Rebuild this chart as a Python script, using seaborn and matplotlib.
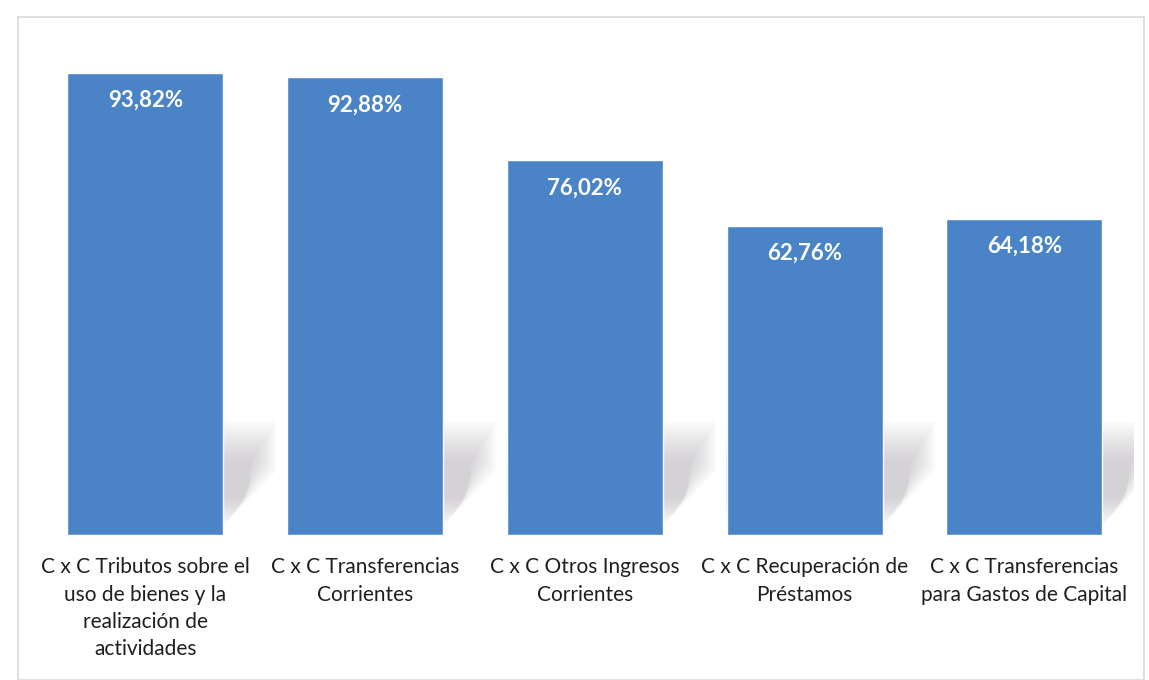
import matplotlib
matplotlib.use('Agg')
import matplotlib.pyplot as plt
import seaborn as sns
import pandas as pd
from matplotlib.patches import Rectangle, Polygon

categorias = [
    'C x C Tributos sobre el\nuso de bienes y la\nrealización de\nactividades',
    'C x C Transferencias\nCorrientes',
    'C x C Otros Ingresos\nCorrientes',
    'C x C Recuperación de\nPréstamos',
    'C x C Transferencias\npara Gastos de Capital',
]
porcentajes = [93.82, 92.88, 76.02, 62.76, 64.18]
etiquetas = ['93,82%', '92,88%', '76,02%', '62,76%', '64,18%']

df = pd.DataFrame({'categoria': categorias, 'valor': porcentajes})

sns.set_style('white')
plt.rcParams['font.family'] = ['Lato', 'DejaVu Sans']

fig = plt.figure(figsize=(11.49, 6.8), dpi=100)
ax = fig.add_axes([0.031, 0.213, 0.956, 0.725])

sns.barplot(data=df, x='categoria', y='valor', color='#4A84C6', saturation=1,
            width=0.71, errorbar=None, ax=ax, zorder=3)

# soft perspective shadow behind each bar (like the office chart effect)
for patch in ax.patches[:len(porcentajes)]:
    xl = patch.get_x()
    xr = xl + patch.get_width()
    for k in range(12):
        s = k * 0.01
        poly = Polygon([(xl, 2 + k * 0.5), (xr + s, 2 + k * 0.5),
                        (xr + 0.24 - s, 13 + k * 0.3), (xr + 0.24 - s, 23 - k * 0.7),
                        (xl, 23 - k * 0.7)],
                       closed=True, facecolor='#8f8a95', edgecolor='none',
                       alpha=0.035, zorder=1)
        ax.add_patch(poly)

for patch, txt in zip(ax.patches, etiquetas):
    x = patch.get_x() + patch.get_width() / 2
    ax.annotate(txt, (x, patch.get_height()), xytext=(0, -20),
                textcoords='offset points', ha='center', va='center',
                color='white', fontsize=16, fontweight='bold', zorder=4)

ax.set_ylim(0, 100)
ax.set_xlim(-0.5, len(porcentajes) - 0.5)
ax.set_yticks([])
ax.set_xlabel('')
ax.set_ylabel('')
ax.tick_params(axis='x', length=0, pad=16, labelsize=15, labelcolor='#1f1f1f')
for label in ax.get_xticklabels():
    label.set_verticalalignment('top')
    label.set_linespacing(1.45)
sns.despine(ax=ax, left=True, bottom=True)

# faint frame of the original chart area
fig.patches.append(Rectangle((0.016, 0.0), 0.98, 0.975, transform=fig.transFigure,
                             fill=False, edgecolor='#d9d9d9', linewidth=1.2))

fig.savefig('out.png', dpi=100)
